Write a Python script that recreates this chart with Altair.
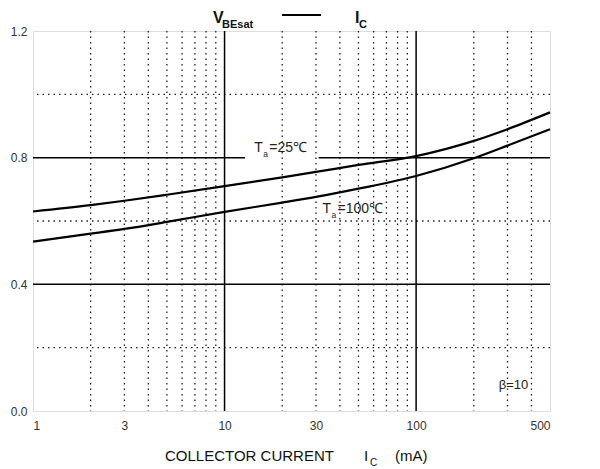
import altair as alt
import pandas as pd

# ---- data ----
ic = [1, 2, 3, 5, 10, 20, 30, 50, 100, 200, 300, 500]
vbe_25 = [0.630, 0.650, 0.664, 0.683, 0.710, 0.738, 0.755, 0.777, 0.805, 0.853, 0.890, 0.943]
vbe_100 = [0.535, 0.560, 0.575, 0.597, 0.629, 0.658, 0.676, 0.702, 0.742, 0.798, 0.838, 0.890]

x_ticks = [1, 3, 10, 30, 100, 500]
y_ticks = [0.0, 0.4, 0.8, 1.2]
x_minor = [2, 3, 4, 5, 6, 7, 8, 9, 20, 30, 40, 50, 60, 70, 80, 90, 200, 300, 400]
x_major = [10, 100]
y_minor = [0.2, 0.6, 1.0]

FONT = "Liberation Sans"
W, H = 517, 380

xs = alt.Scale(type="log", domain=[1, 500], nice=False)
ys = alt.Scale(domain=[0, 1.2], nice=False)

curves = pd.DataFrame(
    {"ic": ic * 2, "v": vbe_25 + vbe_100, "s": ["25"] * len(ic) + ["100"] * len(ic)}
)

base_axes = alt.Chart(pd.DataFrame({"ic": [1], "v": [0]})).mark_point(opacity=0).encode(
    x=alt.X("ic:Q", scale=xs, axis=alt.Axis(values=x_ticks, format="d", title=None, grid=False,
                                            domain=False, ticks=False, labelFont=FONT,
                                            labelFontSize=12, labelColor="#333",
                                            labelPadding=9)),
    y=alt.Y("v:Q", scale=ys, axis=alt.Axis(values=y_ticks, format=".1f", title=None, grid=False,
                                           domain=False, ticks=False, labelFont=FONT,
                                           labelFontSize=12, labelColor="#333",
                                           labelPadding=6)),
)

vmin = alt.Chart(pd.DataFrame({"ic": x_minor})).mark_rule(
    color="#222", strokeWidth=1.3, strokeDash=[1.5, 4]
).encode(x=alt.X("ic:Q", scale=xs))
vmaj = alt.Chart(pd.DataFrame({"ic": x_major})).mark_rule(color="black", strokeWidth=1.5).encode(
    x=alt.X("ic:Q", scale=xs)
)
hmin = alt.Chart(pd.DataFrame({"v": y_minor})).mark_rule(
    color="#222", strokeWidth=1.3, strokeDash=[1.5, 4]
).encode(y=alt.Y("v:Q", scale=ys))
hseg = alt.Chart(
    pd.DataFrame({"x1": [1, 1, 31], "x2": [500, 12.8, 500], "v": [0.4, 0.8, 0.8]})
).mark_rule(color="black", strokeWidth=1.5).encode(
    x=alt.X("x1:Q", scale=xs), x2="x2:Q", y=alt.Y("v:Q", scale=ys)
)

lines = alt.Chart(curves).mark_line(color="black", strokeWidth=2.2, interpolate="monotone").encode(
    x=alt.X("ic:Q", scale=xs),
    y=alt.Y("v:Q", scale=ys),
    detail="s:N",
    order="ic:Q",
)

def label(x, y, main, sub, rest, size=14):
    d = pd.DataFrame({"ic": [x], "v": [y]})
    enc = dict(x=alt.X("ic:Q", scale=xs), y=alt.Y("v:Q", scale=ys))
    t1 = alt.Chart(d).mark_text(text=main, font=FONT, fontSize=size, align="left",
                                baseline="middle", color="#222").encode(**enc)
    t2 = alt.Chart(d).mark_text(text=sub, font=FONT, fontSize=size * 0.6, align="left",
                                baseline="middle", dx=9, dy=6, color="#222").encode(**enc)
    t3 = alt.Chart(d).mark_text(text=rest, font=FONT, fontSize=size, align="left",
                                baseline="middle", dx=15, color="#222").encode(**enc)
    return t1 + t2 + t3

lab25 = label(14.3, 0.83, "T", "a", "=25℃")
lab100 = label(32.5, 0.637, "T", "a", "=100℃")

beta = alt.Chart(pd.DataFrame({"ic": [270], "v": [0.082], "t": ["β=10"]})).mark_text(
    font=FONT, fontSize=13, align="left", baseline="middle", color="#222"
).encode(x=alt.X("ic:Q", scale=xs), y=alt.Y("v:Q", scale=ys), text="t:N")

# titles (pixel positions relative to plot area)
def ptext(txt, px, py, size, bold=False, align="left"):
    return alt.Chart(pd.DataFrame({"a": [0]})).mark_text(
        text=txt, font=FONT, fontSize=size, fontWeight="bold" if bold else "normal",
        align=align, baseline="middle", color="#111"
    ).encode(x=alt.value(px), y=alt.value(py))

top_title = (
    ptext("V", 180, -13, 16, True)
    + ptext("BEsat", 189, -6, 11, True)
    + ptext("I", 322, -13, 16, True)
    + ptext("C", 326, -6, 11, True)
)
dash = alt.Chart(pd.DataFrame({"a": [0]})).mark_rule(color="black", strokeWidth=1.8).encode(
    x=alt.value(249), x2=alt.value(288), y=alt.value(-16)
)
x_title = (
    ptext("COLLECTOR CURRENT", 132, H + 45, 15)
    + ptext("I", 331, H + 45, 15)
    + ptext("C", 337, H + 52, 10)
    + ptext("(mA)", 362, H + 45, 15)
)

chart = alt.layer(
    base_axes, vmin, hmin, vmaj, hseg, lines, lab25, lab100, beta, top_title, dash, x_title
).properties(
    width=W, height=H,
    autosize=alt.AutoSizeParams(type="none"),
    padding={"left": 25, "top": 23, "right": 30, "bottom": 58},
).configure_view(stroke="black", strokeWidth=2).configure(background="white")

chart.save("out.html", embed_options={"renderer": "svg", "actions": False})
